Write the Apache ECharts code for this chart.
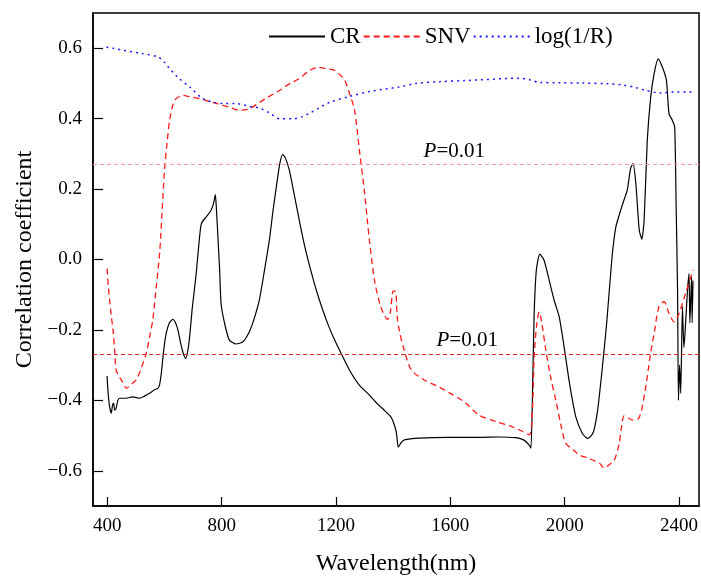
<!DOCTYPE html>
<html>
<head>
<meta charset="utf-8">
<script src="https://cdn.jsdelivr.net/npm/echarts@6/dist/echarts.min.js"></script>
<style>html,body{margin:0;padding:0;background:#fff;}#c{width:701px;height:581px;}</style>
</head>
<body>
<div id="c"></div>
<script>
// ---- data ----
const crWl = [399,403,408,414,418,422,426,431,437,443,466,490,513,530,548,565,577,583,589,597,606,617,629,638,647,656,664,674,681,688,697,711,720,729,746,763,772,778,782,787,793,798,810,827,851,874,897,915,932,950,967,980,992,1003,1013,1022,1037,1055,1072,1090,1107,1125,1142,1170,1195,1220,1247,1280,1317,1345,1369,1390,1400,1411,1418,1428,1439,1491,1596,1701,1771,1829,1858,1876,1882,1887,1893,1901,1913,1928,1946,1963,1981,1998,2017,2039,2062,2080,2095,2103,2115,2126,2138,2147,2155,2167,2179,2196,2210,2219,2231,2239,2249,2261,2270,2278,2289,2301,2313,2327,2342,2356,2365,2377,2385,2390,2395,2398,2402,2406,2412,2417,2421,2429,2435,2438,2444,2446,2449];
const crVal = [-0.331,-0.38,-0.418,-0.436,-0.415,-0.408,-0.428,-0.422,-0.40,-0.394,-0.394,-0.39,-0.394,-0.388,-0.38,-0.37,-0.366,-0.355,-0.323,-0.26,-0.21,-0.18,-0.17,-0.178,-0.2,-0.235,-0.262,-0.281,-0.262,-0.22,-0.14,-0.04,0.04,0.102,0.121,0.14,0.16,0.184,0.14,0.064,-0.03,-0.125,-0.18,-0.229,-0.24,-0.234,-0.205,-0.165,-0.115,-0.03,0.055,0.14,0.21,0.27,0.298,0.29,0.253,0.18,0.11,0.04,-0.016,-0.07,-0.115,-0.18,-0.228,-0.27,-0.314,-0.355,-0.385,-0.41,-0.428,-0.445,-0.46,-0.49,-0.533,-0.52,-0.512,-0.507,-0.505,-0.505,-0.504,-0.506,-0.513,-0.527,-0.536,-0.40,-0.163,-0.03,0.015,-0.002,-0.059,-0.115,-0.163,-0.248,-0.352,-0.447,-0.494,-0.508,-0.498,-0.484,-0.43,-0.352,-0.257,-0.18,-0.10,0.017,0.092,0.14,0.175,0.197,0.26,0.272,0.216,0.083,0.058,0.111,0.338,0.461,0.528,0.57,0.546,0.509,0.414,0.395,0.376,0.149,-0.087,-0.40,-0.30,-0.38,-0.134,-0.25,-0.21,-0.096,-0.04,-0.18,-0.049,-0.18,-0.06];

const snvWl = [399,404,408,414,420,426,431,440,449,458,466,483,501,518,536,548,559,571,583,592,600,609,618,630,641,664,690,723,760,804,835,862,897,930,960,1002,1040,1072,1105,1136,1165,1195,1213,1230,1248,1265,1282,1299,1317,1335,1355,1369,1380,1390,1400,1408,1414,1421,1439,1464,1509,1560,1596,1650,1701,1760,1817,1850,1876,1886,1894,1903,1911,1920,1934,1950,1969,1987,2004,2030,2051,2085,2121,2138,2160,2174,2191,2198,2208,2222,2237,2260,2280,2300,2313,2330,2348,2365,2383,2400,2423,2449];
const snvVal = [-0.026,-0.08,-0.115,-0.16,-0.2,-0.26,-0.314,-0.33,-0.342,-0.355,-0.366,-0.355,-0.342,-0.31,-0.267,-0.22,-0.172,-0.08,0.017,0.14,0.253,0.33,0.395,0.44,0.457,0.466,0.462,0.457,0.448,0.438,0.43,0.424,0.428,0.445,0.46,0.48,0.50,0.514,0.535,0.546,0.542,0.537,0.525,0.51,0.47,0.424,0.31,0.197,0.055,-0.06,-0.13,-0.158,-0.17,-0.15,-0.09,-0.09,-0.16,-0.2,-0.258,-0.314,-0.342,-0.362,-0.378,-0.405,-0.442,-0.46,-0.475,-0.487,-0.498,-0.45,-0.266,-0.18,-0.149,-0.18,-0.257,-0.33,-0.4,-0.47,-0.522,-0.54,-0.555,-0.565,-0.578,-0.592,-0.58,-0.57,-0.521,-0.48,-0.444,-0.45,-0.456,-0.45,-0.38,-0.27,-0.21,-0.134,-0.12,-0.153,-0.177,-0.153,-0.096,-0.03];

const logWl = [397,420,455,520,577,600,618,650,688,734,770,804,851,897,932,970,1002,1050,1080,1107,1140,1177,1247,1317,1421,1480,1562,1650,1700,1841,1880,1910,1980,2061,2150,2201,2250,2284,2336,2390,2435,2450];
const logVal = [0.603,0.60,0.594,0.585,0.575,0.56,0.542,0.515,0.49,0.457,0.447,0.443,0.443,0.435,0.43,0.415,0.40,0.40,0.405,0.415,0.43,0.446,0.463,0.477,0.49,0.50,0.505,0.508,0.51,0.515,0.51,0.503,0.502,0.501,0.499,0.496,0.488,0.48,0.473,0.476,0.476,0.475];

const seriesNames = ['CR', 'SNV', 'log(1/R)'];
const pThreshold = [0.266, -0.266];
const pLabelX = [1614, 1659];
const pLabelY = [0.308, -0.229];
const xTicks = [400, 800, 1200, 1600, 2000, 2400];
const yTicks = [-0.6, -0.4, -0.2, 0.0, 0.2, 0.4, 0.6];

// ---- chart ----
const pair = (xs, ys) => xs.map((x, i) => [x, ys[i]]);
const FONT = 'Liberation Serif';
const chart = echarts.init(document.getElementById('c'), null, {renderer: 'canvas'});
chart.setOption({
  animation: false,
  backgroundColor: '#fff',
  grid: {left: 93, right: 1, top: 13, bottom: 73, show: true, borderColor: '#000', borderWidth: 1.5},
  legend: {
    data: seriesNames, left: 263, top: 20, itemWidth: 56, itemHeight: 14, itemGap: 2,
    itemStyle: {color: 'rgba(0,0,0,0)', borderWidth: 0, opacity: 0},
    textStyle: {fontFamily: FONT, fontSize: 23, color: '#000'}
  },
  xAxis: {
    type: 'value', min: 350, max: 2470, interval: 50,
    name: 'Wavelength(nm)', nameLocation: 'middle', nameGap: 46,
    nameTextStyle: {fontFamily: FONT, fontSize: 24, color: '#000'},
    axisLine: {show: true, onZero: false, lineStyle: {color: '#000', width: 1.5}},
    axisTick: {show: true, inside: true, length: 9, customValues: xTicks, lineStyle: {color: '#000', width: 1.2}},
    axisLabel: {customValues: xTicks, margin: 11, fontFamily: FONT, fontSize: 19, color: '#000',
      formatter: v => String(v)},
    splitLine: {show: false}
  },
  yAxis: {
    type: 'value', min: -0.7, max: 0.7, interval: 0.1,
    name: 'Correlation coefficient', nameLocation: 'middle', nameGap: 49,
    nameTextStyle: {fontFamily: FONT, fontSize: 24, color: '#000'},
    axisLine: {show: true, onZero: false, lineStyle: {color: '#000', width: 1.5}},
    axisTick: {show: true, inside: true, length: 10, customValues: yTicks, lineStyle: {color: '#000', width: 1.2}},
    axisLabel: {customValues: yTicks, margin: 11, fontFamily: FONT, fontSize: 19, color: '#000',
      formatter: v => (v < -1e-9 ? '\u2212' : '') + Math.abs(v).toFixed(1)},
    splitLine: {show: false}
  },
  series: [
    {name: seriesNames[0], type: 'line', data: pair(crWl, crVal), symbol: 'none', smooth: 0.2,
     lineStyle: {color: '#000', width: 1.2}, itemStyle: {color: '#000'}},
    {name: seriesNames[1], type: 'line', data: pair(snvWl, snvVal), symbol: 'none', smooth: 0.3,
     lineStyle: {color: '#ff1a1a', width: 1.3, type: [6, 4]}, itemStyle: {color: '#ff1a1a'}},
    {name: seriesNames[2], type: 'line', data: pair(logWl, logVal), symbol: 'none', smooth: 0.3,
     lineStyle: {color: '#1a1aff', width: 1.5, type: [2, 4]}, itemStyle: {color: '#1a1aff'}},
    {name: 'P', type: 'scatter', data: pair(pLabelX, pLabelY), symbolSize: 0,
     itemStyle: {color: '#000', opacity: 1}, silent: true,
     label: {show: true, position: 'inside', formatter: '{i|P}=0.01', fontFamily: FONT, fontSize: 21, color: '#000', textBorderWidth: 0, opacity: 1,
       rich: {i: {fontStyle: 'italic', fontFamily: FONT, fontSize: 21, color: '#000'}}},
     markLine: {silent: true, symbol: ['none', 'none'], label: {show: false},
       data: [
         {yAxis: pThreshold[0], lineStyle: {color: '#ff9c9c', type: [4, 3], width: 1}},
         {yAxis: pThreshold[1], lineStyle: {color: '#e02828', type: [4, 3], width: 1}}
       ]}}
  ]
});
</script>
</body>
</html>
